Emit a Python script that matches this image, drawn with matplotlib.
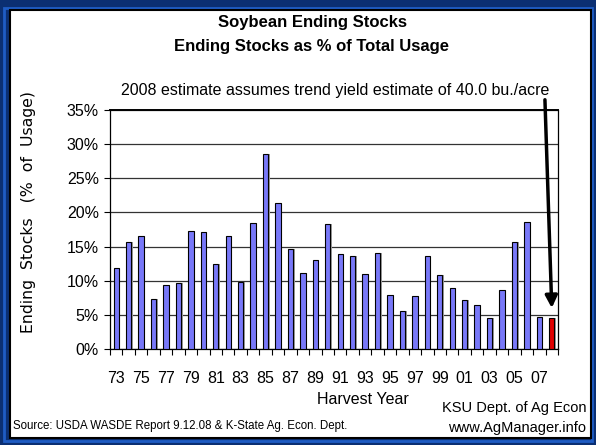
import matplotlib
matplotlib.use('Agg')
import matplotlib.pyplot as plt
import matplotlib.patches as patches
from matplotlib.ticker import FuncFormatter, FixedLocator

# ===========================
# DADOS
# ===========================
anos = ['73', '74', '75', '76', '77', '78', '79', '80', '81', '82', '83', '84',
        '85', '86', '87', '88', '89', '90', '91', '92', '93', '94', '95', '96',
        '97', '98', '99', '00', '01', '02', '03', '04', '05', '06', '07', '08']
estoques = [11.8, 15.6, 16.5, 7.3, 9.4, 9.6, 17.3, 17.1, 12.4, 16.5, 9.8, 18.4,
            28.6, 21.4, 14.6, 11.1, 13.0, 18.3, 13.9, 13.6, 11.0, 14.1, 7.9, 5.5,
            7.7, 13.6, 10.8, 8.9, 7.2, 6.4, 4.5, 8.7, 15.7, 18.6, 4.7, 4.5]
# ultimo ano (2008) e estimativa -> barra vermelha
cores = ['#7878f8'] * (len(anos) - 1) + ['#e00000']

FONTE = ['Liberation Sans', 'DejaVu Sans']

# ===========================
# FIGURA
# ===========================
W, H = 596, 445
fig = plt.figure(figsize=(W / 100, H / 100), dpi=100)
fig.patch.set_facecolor('#0b2f72')

def fx(px):
    return px / W

def fy(py):
    return 1 - py / H

# faixa azul clara e painel branco (atras dos eixos)
fig.patches.append(patches.Rectangle((fx(4), fy(441)), fx(588), (437 - 4) / H,
                                     transform=fig.transFigure, facecolor='none',
                                     edgecolor='#1f5cc4', lw=2, zorder=-2))
fig.patches.append(patches.Rectangle((fx(10), fy(438)), fx(581), 428 / H,
                                     transform=fig.transFigure, facecolor='white',
                                     edgecolor='black', lw=1.5, zorder=-1))

ax = fig.add_axes([fx(110), fy(349), fx(448), 239 / H])
ax.set_zorder(2)
ax.patch.set_alpha(0)
x = list(range(len(anos)))

# sombra das barras
ax.bar([i + 0.12 for i in x], estoques, width=0.42, color='#9a9a9a', zorder=2)
ax.bar(x, estoques, width=0.42, color=cores, edgecolor='black', linewidth=0.8, zorder=3)

ax.set_xlim(-0.5, len(anos) - 0.5)
ax.set_ylim(0, 35)
ax.set_yticks(range(0, 36, 5))
ax.yaxis.set_major_formatter(FuncFormatter(lambda v, p: f'{int(v)}%'))
ax.grid(axis='y', color='#333333', linewidth=0.9, zorder=1)

ax.set_xticks(x[::2])
ax.set_xticklabels(anos[::2])
ax.xaxis.set_minor_locator(FixedLocator([i - 0.5 for i in range(len(anos) + 1)]))
ax.tick_params(axis='x', which='major', length=0, pad=16)
ax.tick_params(axis='x', which='minor', length=4, width=0.8, direction='out')
ax.tick_params(axis='y', length=4, width=0.8, direction='out', pad=4)
for lbl in ax.get_xticklabels() + ax.get_yticklabels():
    lbl.set_family(FONTE)
    lbl.set_fontsize(11.5)

for s in ax.spines.values():
    s.set_color('black')
    s.set_linewidth(0.9)
ax.spines['top'].set_linewidth(1.4)

# ===========================
# TEXTOS
# ===========================
fig.text(fx(312), fy(22), 'Soybean Ending Stocks', ha='center', va='center',
         fontsize=12, fontweight='bold', family=FONTE)
fig.text(fx(312), fy(47), 'Ending Stocks as % of Total Usage', ha='center', va='center',
         fontsize=12, fontweight='bold', family=FONTE)
fig.text(fx(335), fy(91), '2008 estimate assumes trend yield estimate of 40.0 bu./acre',
         ha='center', va='center', fontsize=11.5, family=FONTE)
fig.text(fx(29), fy(212), 'Ending  Stocks   (%  of  Usage)', rotation=90,
         ha='center', va='center', fontsize=11.3, family='DejaVu Sans')
fig.text(fx(363), fy(400), 'Harvest Year', ha='center', va='center',
         fontsize=11.5, family=FONTE)
fig.text(fx(586), fy(408), 'KSU Dept. of Ag Econ', ha='right', va='center',
         fontsize=10.5, family=FONTE)
fig.text(fx(586), fy(428), 'www.AgManager.info', ha='right', va='center',
         fontsize=10.5, family=FONTE)
fig.text(fx(13), fy(426), 'Source: USDA WASDE Report 9.12.08 & K-State Ag. Econ. Dept.',
         ha='left', va='center', fontsize=8.3, family=FONTE)

# seta apontando para a barra de 2008
ax.annotate('', xy=(35, 6.0), xytext=(34.45, 36.5), xycoords='data',
            annotation_clip=False,
            arrowprops=dict(arrowstyle='-|>', color='black', lw=2.5,
                            mutation_scale=18, shrinkA=0, shrinkB=0))

fig.savefig('out.png', dpi=100, facecolor=fig.get_facecolor())
